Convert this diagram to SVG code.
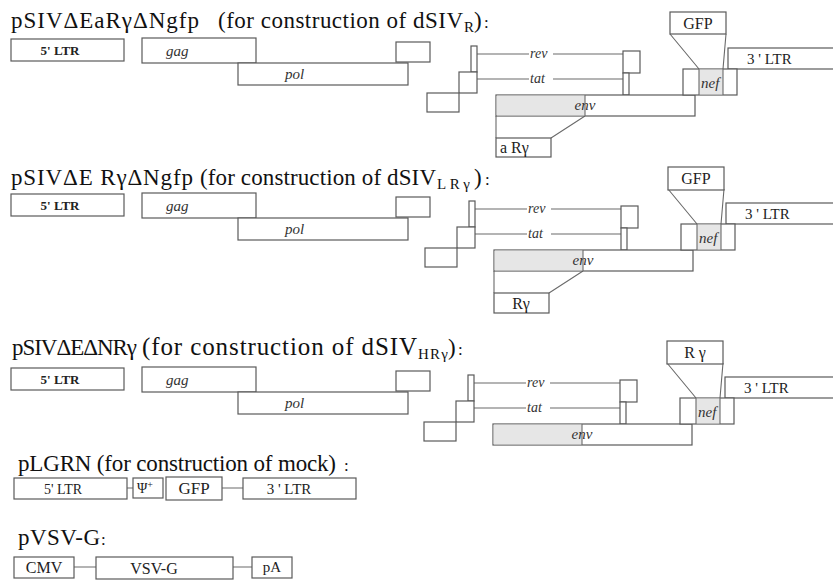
<svg xmlns="http://www.w3.org/2000/svg" width="833" height="582" viewBox="0 0 833 582">
<style>
  .bx{fill:#fff;stroke:#5a5a5a;stroke-width:1.2}
  .sh{fill:#e6e6e6;stroke:none}
  .ln{stroke:#6a6a6a;stroke-width:1.1;fill:none}
  .t{font-family:"Liberation Serif","Times New Roman",serif;font-size:23px;fill:#111}
  .sub{font-family:"Liberation Serif","Times New Roman",serif;font-size:15px;fill:#111}
  .col{font-family:"Liberation Serif","Times New Roman",serif;font-size:17px;fill:#111}
  .lb{font-family:"Liberation Serif","Times New Roman",serif;font-size:13px;font-weight:bold;fill:#222}
  .it{font-family:"Liberation Serif","Times New Roman",serif;font-size:15px;font-style:italic;fill:#333}
  .sm{font-family:"Liberation Serif","Times New Roman",serif;font-size:14px;font-style:italic;fill:#333}
  .nm{font-family:"Liberation Serif","Times New Roman",serif;font-size:16px;fill:#222}
</style>
<rect width="833" height="582" fill="#fff"/>

<!-- Titles -->
<g id="title1">
  <text x="11" y="28" class="t" textLength="188" lengthAdjust="spacing">pSIVΔEaRγΔNgfp</text>
  <text x="218" y="28" class="t" textLength="245" lengthAdjust="spacing">(for construction of dSIV</text>
  <text x="464" y="32" class="sub">R</text>
  <text x="474" y="28" class="t">)</text>
  <text x="484" y="28" class="col">:</text>
</g>
<g id="title2">
  <text x="11" y="185" class="t" textLength="182" lengthAdjust="spacing">pSIVΔE RγΔNgfp</text>
  <text x="200" y="185" class="t" textLength="236" lengthAdjust="spacing">(for construction of dSIV</text>
  <text x="437" y="189" class="sub" textLength="33" lengthAdjust="spacing">LRγ</text>
  <text x="474" y="185" class="t">)</text>
  <text x="485" y="185" class="col">:</text>
</g>
<g id="title3">
  <text x="12" y="355" class="t" textLength="125" lengthAdjust="spacing">pSIVΔEΔNRγ</text>
  <text x="142" y="355" class="t" style="font-size:25px" textLength="275" lengthAdjust="spacing">(for construction of dSIV</text>
  <text x="418" y="359" class="sub" textLength="30" lengthAdjust="spacing">HRγ</text>
  <text x="448" y="355" class="t">)</text>
  <text x="458" y="355" class="col">:</text>
</g>
<g id="title4">
  <text x="18" y="471" class="t" textLength="318" lengthAdjust="spacing">pLGRN (for construction of mock)</text>
  <text x="344" y="471" class="col">:</text>
</g>
<g id="title5">
  <text x="18" y="545" class="t" textLength="82" lengthAdjust="spacing">pVSV-G</text>
  <text x="101" y="545" class="col">:</text>
</g>

<!-- Connectors -->
<g id="connectors">
  <g transform="translate(0,0)">
    <path class="ln" d="M477,54H529M553,54H623M477,79H529M553,79H623"/>
    <path class="ln" d="M496,116V138M585,116L551,138"/>
    <path class="ln" d="M670,34L699,69M726,34L723,69"/>
  </g>
  <g transform="translate(-2,155)">
    <path class="ln" d="M477,54H529M553,54H623M477,79H529M553,79H623"/>
    <path class="ln" d="M496,116V138M585,116L551,138"/>
    <path class="ln" d="M670,34L699,69M726,34L723,69"/>
  </g>
  <g transform="translate(-3,329)">
    <path class="ln" d="M477,54H529M553,54H623M477,79H529M553,79H623"/>
    <path class="ln" d="M670,34L699,69M726,34L723,69"/>
  </g>
  <path class="ln" d="M127,488H133M222,488H243"/>
  <path class="ln" d="M74,567H96M233,567H252"/>
</g>

<!-- Row 1 -->
<g id="row1-left">
  <g id="r1-5ltr"><rect class="bx" x="11" y="39" width="113" height="22"/><text class="lb" x="60" y="55" text-anchor="middle">5' LTR</text></g>
  <g id="r1-gag"><rect class="bx" x="142" y="38" width="114" height="25"/><text class="it" x="166" y="56">gag</text></g>
  <g id="r1-pol"><rect class="bx" x="238" y="63" width="170" height="22"/><text class="it" x="285" y="79">pol</text></g>
  <g id="r1-gagend"><rect class="bx" x="396" y="42" width="34" height="20"/></g>
</g>
<g id="row1-right">
  <g id="r1-rev1"><rect class="bx" x="471" y="46" width="6" height="26"/></g>
  <g id="r1-tat1"><rect class="bx" x="459" y="72" width="18" height="21"/></g>
  <g id="r1-ex"><rect class="bx" x="427" y="93" width="32" height="19"/></g>
  <g id="r1-rev2"><rect class="bx" x="623" y="51" width="17" height="22"/></g>
  <g id="r1-tat2"><rect class="bx" x="623" y="73" width="6" height="22"/></g>
  <text class="sm" x="530" y="58">rev</text>
  <text class="sm" x="530" y="83">tat</text>
  <g id="r1-env"><rect class="bx" x="496" y="95" width="199" height="21"/><rect class="sh" x="496.6" y="95.6" width="88.4" height="19.8"/><line class="ln" x1="585" y1="95" x2="585" y2="116"/><text class="it" x="585" y="110" text-anchor="middle">env</text></g>
  <g id="r1-aRg"><rect class="bx" x="496" y="138" width="55" height="19"/><text class="nm" x="500" y="153">a Rγ</text></g>
  <g id="r1-gfp"><rect class="bx" x="670" y="12" width="56" height="22"/><text class="nm" x="698" y="29" text-anchor="middle">GFP</text></g>
  <g id="r1-3ltr"><rect class="bx" x="728" y="48" width="120" height="21"/><text class="nm" x="747" y="64" style="font-size:15px">3 ' LTR</text></g>
  <g id="r1-nef"><rect class="bx" x="683" y="69" width="54" height="26"/><rect class="sh" x="699" y="69.6" width="24" height="24.8"/><path class="ln" d="M699,69V95M723,69V95"/><text class="it" x="701" y="88">nef</text></g>
</g>

<!-- Row 2 -->
<g id="row2-left" transform="translate(0,155)">
  <g id="r2-5ltr"><rect class="bx" x="11" y="39" width="113" height="22"/><text class="lb" x="60" y="55" text-anchor="middle">5' LTR</text></g>
  <g id="r2-gag"><rect class="bx" x="142" y="38" width="114" height="25"/><text class="it" x="166" y="56">gag</text></g>
  <g id="r2-pol"><rect class="bx" x="238" y="63" width="170" height="22"/><text class="it" x="285" y="79">pol</text></g>
  <g id="r2-gagend"><rect class="bx" x="396" y="42" width="34" height="20"/></g>
</g>
<g id="row2-right" transform="translate(-2,155)">
  <g id="r2-rev1"><rect class="bx" x="471" y="46" width="6" height="26"/></g>
  <g id="r2-tat1"><rect class="bx" x="459" y="72" width="18" height="21"/></g>
  <g id="r2-ex"><rect class="bx" x="427" y="93" width="32" height="19"/></g>
  <g id="r2-rev2"><rect class="bx" x="623" y="51" width="17" height="22"/></g>
  <g id="r2-tat2"><rect class="bx" x="623" y="73" width="6" height="22"/></g>
  <text class="sm" x="530" y="58">rev</text>
  <text class="sm" x="530" y="83">tat</text>
  <g id="r2-env"><rect class="bx" x="496" y="95" width="199" height="21"/><rect class="sh" x="496.6" y="95.6" width="88.4" height="19.8"/><line class="ln" x1="585" y1="95" x2="585" y2="116"/><text class="it" x="585" y="110" text-anchor="middle">env</text></g>
  <g id="r2-Rg"><rect class="bx" x="496" y="138" width="55" height="20"/><text class="nm" x="523" y="154" text-anchor="middle">Rγ</text></g>
  <g id="r2-gfp"><rect class="bx" x="670" y="12" width="56" height="23"/><text class="nm" x="698" y="29" text-anchor="middle">GFP</text></g>
  <g id="r2-3ltr"><rect class="bx" x="728" y="48" width="120" height="21"/><text class="nm" x="747" y="64" style="font-size:15px">3 ' LTR</text></g>
  <g id="r2-nef"><rect class="bx" x="683" y="69" width="54" height="26"/><rect class="sh" x="699" y="69.6" width="24" height="24.8"/><path class="ln" d="M699,69V95M723,69V95"/><text class="it" x="701" y="88">nef</text></g>
</g>

<!-- Row 3 -->
<g id="row3-left" transform="translate(0,329)">
  <g id="r3-5ltr"><rect class="bx" x="11" y="39" width="113" height="22"/><text class="lb" x="60" y="55" text-anchor="middle">5' LTR</text></g>
  <g id="r3-gag"><rect class="bx" x="142" y="38" width="114" height="25"/><text class="it" x="166" y="56">gag</text></g>
  <g id="r3-pol"><rect class="bx" x="238" y="63" width="170" height="22"/><text class="it" x="285" y="79">pol</text></g>
  <g id="r3-gagend"><rect class="bx" x="396" y="42" width="34" height="20"/></g>
</g>
<g id="row3-right" transform="translate(-3,329)">
  <g id="r3-rev1"><rect class="bx" x="471" y="46" width="6" height="26"/></g>
  <g id="r3-tat1"><rect class="bx" x="459" y="72" width="18" height="21"/></g>
  <g id="r3-ex"><rect class="bx" x="427" y="93" width="32" height="19"/></g>
  <g id="r3-rev2"><rect class="bx" x="623" y="51" width="17" height="22"/></g>
  <g id="r3-tat2"><rect class="bx" x="623" y="73" width="6" height="22"/></g>
  <text class="sm" x="530" y="58">rev</text>
  <text class="sm" x="530" y="83">tat</text>
  <g id="r3-env"><rect class="bx" x="496" y="95" width="199" height="21"/><rect class="sh" x="496.6" y="95.6" width="88.4" height="19.8"/><line class="ln" x1="585" y1="95" x2="585" y2="116"/><text class="it" x="585" y="110" text-anchor="middle">env</text></g>
  <g id="r3-Rg"><rect class="bx" x="670" y="12" width="56" height="23"/><text class="nm" x="698" y="29" text-anchor="middle">R γ</text></g>
  <g id="r3-3ltr"><rect class="bx" x="728" y="48" width="120" height="21"/><text class="nm" x="747" y="64" style="font-size:15px">3 ' LTR</text></g>
  <g id="r3-nef"><rect class="bx" x="683" y="69" width="54" height="26"/><rect class="sh" x="699" y="69.6" width="24" height="24.8"/><path class="ln" d="M699,69V95M723,69V95"/><text class="it" x="701" y="88">nef</text></g>
</g>

<!-- pLGRN -->
<g id="pLGRN">
  <g id="m-5ltr"><rect class="bx" x="14" y="478" width="113" height="21"/><text class="nm" x="63" y="494" style="font-size:14px" text-anchor="middle">5' LTR</text></g>
  <g id="m-psi"><rect class="bx" x="133" y="478" width="30" height="20"/><text class="nm" x="137" y="493" style="font-size:14px">Ψ<tspan font-size="10" dy="-5">+</tspan></text></g>
  <g id="m-gfp"><rect class="bx" x="166" y="477" width="56" height="23"/><text class="nm" x="194" y="494" style="font-size:17px" text-anchor="middle">GFP</text></g>
  <g id="m-3ltr"><rect class="bx" x="243" y="478" width="113" height="21"/><text class="nm" x="289" y="494" style="font-size:15px" text-anchor="middle">3 ' LTR</text></g>
</g>

<!-- pVSV-G -->
<g id="pVSVG">
  <g id="v-cmv"><rect class="bx" x="14" y="557" width="60" height="21"/><text class="nm" x="44" y="573" text-anchor="middle">CMV</text></g>
  <g id="v-vsvg"><rect class="bx" x="96" y="557" width="137" height="22"/><text class="nm" x="154" y="574" text-anchor="middle">VSV-G</text></g>
  <g id="v-pa"><rect class="bx" x="252" y="557" width="40" height="21"/><text class="nm" x="272" y="572" style="font-size:15px" text-anchor="middle">pA</text></g>
</g>
</svg>
